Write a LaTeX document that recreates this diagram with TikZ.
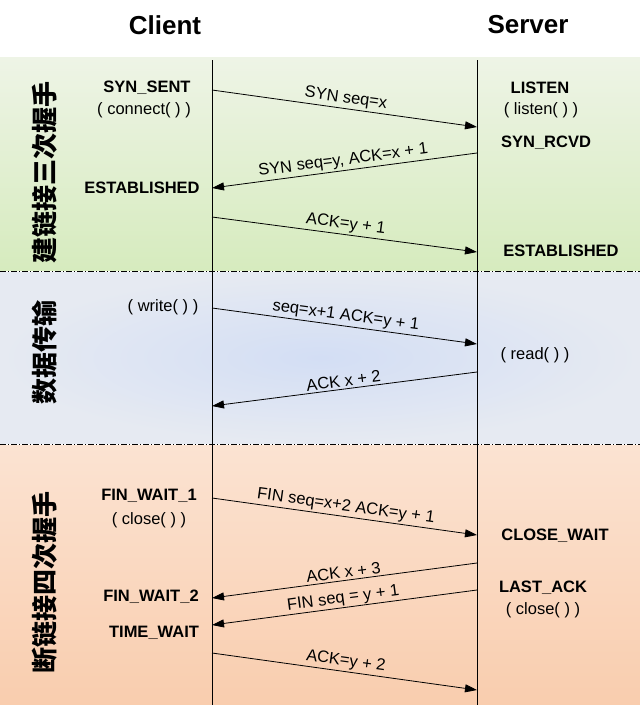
\documentclass[tikz,border=0pt]{standalone}
\usepackage{fontspec}
\setmainfont{Liberation Sans}
\newfontfamily\cjk{Noto Sans CJK SC}
\usetikzlibrary{arrows.meta}
\definecolor{gA}{HTML}{EEF4E6}
\definecolor{gB}{HTML}{D6EBBE}
\definecolor{bA}{HTML}{D3DEF4}
\definecolor{bB}{HTML}{E6EAF2}
\definecolor{oA}{HTML}{FBE3D2}
\definecolor{oB}{HTML}{F9CDAE}
\begin{document}
\begin{tikzpicture}[x=1pt,y=-1pt,
  st/.style={font=\bfseries\fontsize{16.5}{18}\selectfont,inner sep=1pt},
  fn/.style={font=\fontsize{16.5}{18}\selectfont,inner sep=1pt},
  hd/.style={font=\bfseries\fontsize{26}{28}\selectfont},
  side/.style={font=\cjk\bfseries\fontsize{26}{28}\selectfont,rotate=90},
  msg/.style={-{Triangle[length=12pt,width=8pt]},line width=0.8pt},
  lbl/.style={font=\fontsize{16.5}{18}\selectfont,sloped,above,inner sep=2pt},
  sep/.style={line width=0.6pt,dash pattern=on 6pt off 2pt on 1pt off 2pt}]
\useasboundingbox (0,0) rectangle (640,705);
\fill[white] (0,0) rectangle (640,705);
\shade[top color=gA, bottom color=gB] (0,57) rectangle (640,270);
\shade[inner color=bA, outer color=bB] (0,272) rectangle (640,443);
\shade[top color=oA, bottom color=oB] (0,445) rectangle (640,705);
\draw[sep] (0,271) -- (640,271);
\draw[sep] (0,444) -- (640,444);
\node[hd] (cl) at (165,25) {Client};
\node[hd] (sv) at (528,25) {Server};
\draw[line width=0.8pt] (212,60) -- (212,705);
\draw[line width=0.8pt] (477,60) -- (477,705);
\node[side] (s1) at (45,172) {建链接三次握手};
\node[side] (s2) at (45,352) {数据传输};
\node[side] (s3) at (45,582) {断链接四次握手};
% states
\node[st] (a1) at (147,88) {SYN\_SENT};
\node[fn] (a2) at (144,110) {( connect( ) )};
\node[st] (a3) at (142,188) {ESTABLISHED};
\node[st] (b1) at (540,88) {LISTEN};
\node[fn] (b2) at (541,110) {( listen( ) )};
\node[st] (b3) at (546,143) {SYN\_RCVD};
\node[st] (b4) at (561,251) {ESTABLISHED};
\node[fn] (a4) at (163,307) {( write( ) )};
\node[fn] (b5) at (535,355) {( read( ) )};
\node[st] (a5) at (149,496) {FIN\_WAIT\_1};
\node[fn] (a6) at (149,520) {( close( ) )};
\node[st] (b6) at (555,536) {CLOSE\_WAIT};
\node[st] (a7) at (151,597) {FIN\_WAIT\_2};
\node[st] (b7) at (543,588) {LAST\_ACK};
\node[fn] (b8) at (543,610) {( close( ) )};
\node[st] (a8) at (154,633) {TIME\_WAIT};
% endpoints
\foreach \n/\x/\y in {p1/212/90,q1/477/127,p2/477/153,q2/212/188,p3/212/217,q3/477/252,
  p4/212/308,q4/477/344,p5/477/372,q5/212/406,p6/212/498,q6/477/535,p7/477/563,q7/212/598,
  p8/477/590,q8/212/625,p9/212/653,q9/477/690}
  \coordinate (\n) at (\x,\y);
\draw[msg] (p1) -- node[lbl]{SYN seq=x} (q1);
\draw[msg] (p2) -- node[lbl]{SYN seq=y, ACK=x + 1} (q2);
\draw[msg] (p3) -- node[lbl]{ACK=y + 1} (q3);
\draw[msg] (p4) -- node[lbl]{seq=x+1 ACK=y + 1} (q4);
\draw[msg] (p5) -- node[lbl]{ACK x + 2} (q5);
\draw[msg] (p6) -- node[lbl]{FIN seq=x+2 ACK=y + 1} (q6);
\draw[msg] (p7) -- node[lbl]{ACK x + 3} (q7);
\draw[msg] (p8) -- node[lbl,inner sep=1pt]{FIN seq = y + 1} (q8);
\draw[msg] (p9) -- node[lbl]{ACK=y + 2} (q9);
\end{tikzpicture}
\end{document}
